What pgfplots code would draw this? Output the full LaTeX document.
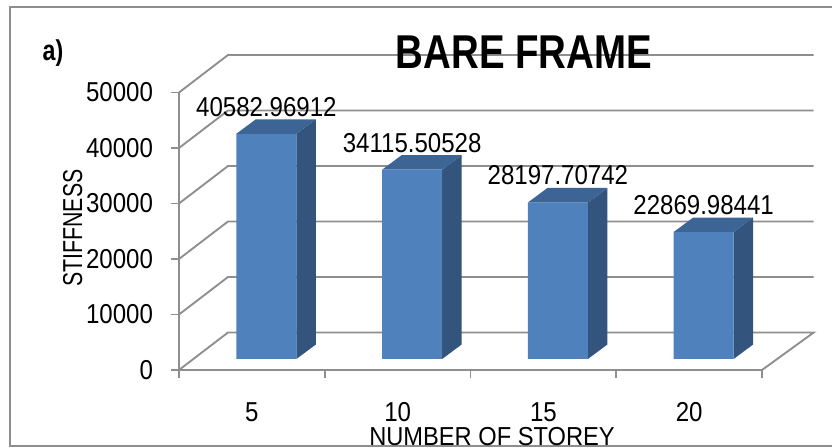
\documentclass[border=0pt]{standalone}
\usepackage{fontspec}
\usepackage{pgfplots}
\pgfplotsset{compat=1.18}
\setmainfont{Liberation Sans}
\newfontfamily\tickfam[FakeStretch=0.88]{Liberation Sans}
\newfontfamily\titlefam[FakeStretch=0.81]{Liberation Sans Bold}
\newfontfamily\ylabfam[FakeStretch=0.78]{Liberation Sans}
\newfontfamily\xlabfam[FakeStretch=0.91]{Liberation Sans}
\definecolor{gridgrey}{HTML}{8E8E8E}
\definecolor{barfront}{HTML}{4F81BD}
\definecolor{barside}{HTML}{32547D}
\definecolor{bartop}{HTML}{3C6494}
\newcommand{\tickf}{\tickfam\fontsize{20.5pt}{20.5pt}\selectfont}
\begin{document}
\begin{tikzpicture}[x=0.75pt,y=-0.75pt]
\path[use as bounding box,fill=white] (0,0) rectangle (832,448);
\draw[gridgrey,line width=1.4pt] (832,7.3) -- (10.3,7.3) -- (10.3,445.7) -- (832,445.7);
\coordinate (A) at (179,370);
\coordinate (B) at (193.5,359);
% walls, grid and axis
\begin{axis}[
  at={(A)}, anchor=south west,
  scale only axis, width=437.25pt, height=208.125pt,
  xmin=-0.5, xmax=3.5, ymin=0, ymax=50000,
  clip=false,
  axis lines=left,
  axis line style={-,gridgrey,line width=1.4pt},
  xtick={0,1,2,3}, xticklabels={5,10,15,20},
  minor xtick={-0.5,0.5,1.5,2.5,3.5},
  ytick={0,10000,20000,30000,40000,50000},
  tick align=outside,
  major tick length=6pt, minor tick length=6pt,
  tick style={gridgrey,line width=1.4pt},
  major x tick style={draw=none},
  scaled y ticks=false,
  /pgf/number format/assume math mode=true,
  /pgf/number format/1000 sep={},
  ticklabel style={font=\tickf,text=black},
  xticklabel style={yshift=-15pt},
  yticklabel style={xshift=-10pt},
]
\addplot[gridgrey,line width=1.4pt] coordinates {(-0.5,0)(-0.1638,6757)(3.8547,6757)(3.5,0)};
\addplot[gridgrey,line width=1.4pt] coordinates {(-0.5,10000)(-0.1638,16757)(3.8547,16757)};
\addplot[gridgrey,line width=1.4pt] coordinates {(-0.5,20000)(-0.1638,26757)(3.8547,26757)};
\addplot[gridgrey,line width=1.4pt] coordinates {(-0.5,30000)(-0.1638,36757)(3.8547,36757)};
\addplot[gridgrey,line width=1.4pt] coordinates {(-0.5,40000)(-0.1638,46757)(3.8547,46757)};
\addplot[gridgrey,line width=1.4pt] coordinates {(-0.5,50000)(-0.1638,56757)(3.8547,56757)};
\end{axis}
% bars, on the mid-depth plane
\begin{axis}[
  at={(B)}, anchor=south west,
  scale only axis, width=437.25pt, height=208.125pt,
  xmin=-0.5, xmax=3.5, ymin=0, ymax=50000,
  clip=false, hide axis,
]
\addplot[fill=barside,draw=none] coordinates {(0.2058,0)(0.3396,2613)(0.3396,43195.97)(0.2058,40582.97)} --cycle;
\addplot[fill=bartop,draw=none] coordinates {(-0.2058,40582.97)(-0.0720,43195.97)(0.3396,43195.97)(0.2058,40582.97)} --cycle;
\addplot[fill=barside,draw=none] coordinates {(1.2058,0)(1.3396,2613)(1.3396,36728.5)(1.2058,34115.5)} --cycle;
\addplot[fill=bartop,draw=none] coordinates {(0.7942,34115.5)(0.9280,36728.5)(1.3396,36728.5)(1.2058,34115.5)} --cycle;
\addplot[fill=barside,draw=none] coordinates {(2.2058,0)(2.3396,2613)(2.3396,30810.7)(2.2058,28197.7)} --cycle;
\addplot[fill=bartop,draw=none] coordinates {(1.7942,28197.7)(1.9280,30810.7)(2.3396,30810.7)(2.2058,28197.7)} --cycle;
\addplot[fill=barside,draw=none] coordinates {(3.2058,0)(3.3396,2613)(3.3396,25483)(3.2058,22870)} --cycle;
\addplot[fill=bartop,draw=none] coordinates {(2.7942,22870)(2.9280,25483)(3.3396,25483)(3.2058,22870)} --cycle;
\addplot[ybar,bar width=45pt,fill=barfront,draw=none,
  point meta=explicit symbolic,
  nodes near coords,
  nodes near coords style={font=\tickf,text=black,anchor=center,yshift=20.25pt,inner sep=0pt}]
  coordinates {(0,40582.96912)[40582.96912] (1,34115.50528)[34115.50528]
               (2,28197.70742)[28197.70742] (3,22869.98441)[22869.98441]};
\end{axis}
\node[anchor=base,inner sep=0pt] at (524,69) {\titlefam\fontsize{35.6pt}{35.6pt}\selectfont BARE FRAME};
\node[anchor=base,inner sep=0pt] at (53,61) {\titlefam\fontsize{21.5pt}{21.5pt}\selectfont a)};
\node[anchor=base,inner sep=0pt,rotate=90] at (82,228) {\ylabfam\fontsize{20.5pt}{20.5pt}\selectfont STIFFNESS};
\node[anchor=base,inner sep=0pt] at (492,446) {\xlabfam\fontsize{19.5pt}{19.5pt}\selectfont NUMBER OF STOREY};
\end{tikzpicture}
\end{document}
